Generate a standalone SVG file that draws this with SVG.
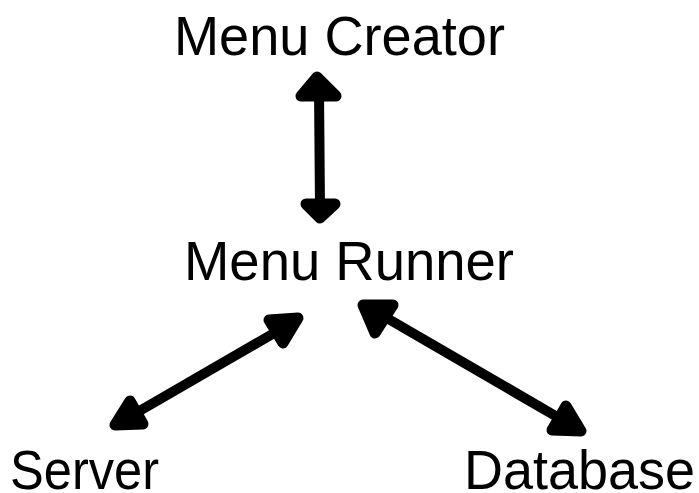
<svg xmlns="http://www.w3.org/2000/svg" width="699" height="493" viewBox="0 0 699 493">
  <style>
    .label { font-family: "Liberation Sans", Arial, sans-serif; font-size: 56px; fill: #000; }
    .shaft { stroke: #000; stroke-width: 10; stroke-linecap: round; fill: none; }
    .head { fill: #000; stroke: #000; stroke-width: 11; stroke-linejoin: round; }
  </style>
  <rect width="699" height="493" fill="#fff"/>

  <g id="connectors">
    <!-- Menu Creator <-> Menu Runner -->
    <g id="edge-creator-runner">
      <line class="shaft" x1="319" y1="90" x2="320" y2="208"/>
      <polygon class="head" points="317,77 301,96 336,96"/>
      <polygon class="head" points="306,204 335,204 320,218"/>
    </g>
    <!-- Server <-> Menu Runner -->
    <g id="edge-server-runner">
      <line class="shaft" x1="136" y1="413" x2="276" y2="332"/>
      <polygon class="head" points="298,318 269,320 283,343"/>
      <polygon class="head" points="115,425 130,401 143,424"/>
    </g>
    <!-- Menu Runner <-> Database -->
    <g id="edge-runner-database">
      <line class="shaft" x1="385" y1="317" x2="559" y2="418"/>
      <polygon class="head" points="363,305 393,305 375,333"/>
      <polygon class="head" points="581,431 566,406 552,430"/>
    </g>
  </g>

  <g id="node-menu-creator">
    <text class="label" x="174" y="55" textLength="331" lengthAdjust="spacingAndGlyphs">Menu Creator</text>
  </g>
  <g id="node-menu-runner">
    <text class="label" x="184" y="280" textLength="330" lengthAdjust="spacingAndGlyphs">Menu Runner</text>
  </g>
  <g id="node-server">
    <text class="label" x="10" y="489" textLength="149" lengthAdjust="spacingAndGlyphs">Server</text>
  </g>
  <g id="node-database">
    <text class="label" x="464" y="489" textLength="231" lengthAdjust="spacingAndGlyphs">Database</text>
  </g>
</svg>
